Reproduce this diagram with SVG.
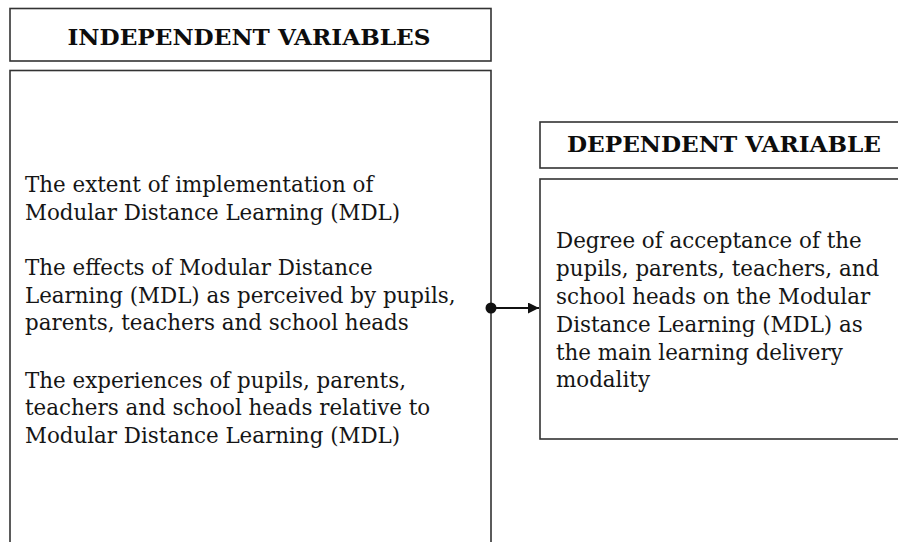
<svg xmlns="http://www.w3.org/2000/svg" width="898" height="542" viewBox="0 0 898 542">
  <style>
    .box { fill: #ffffff; stroke: #333333; stroke-width: 1.6; }
    .head { font-family: "DejaVu Serif", "Liberation Serif", serif; font-weight: bold; font-size: 22px; fill: #0d0d0d; text-anchor: middle; }
    .body { font-family: "DejaVu Serif", "Liberation Serif", serif; font-size: 21.4px; fill: #151515; }
    .wire { stroke: #111; stroke-width: 2; fill: none; }
  </style>
  <defs>
    <marker id="arrow" viewBox="0 0 10 10" refX="10" refY="5" markerWidth="12" markerHeight="11" orient="auto" markerUnits="userSpaceOnUse">
      <path d="M0,0 L10,5 L0,10 Z" fill="#111"/>
    </marker>
  </defs>
  <rect width="898" height="542" fill="#ffffff"/>

  <g id="independent-header">
    <rect class="box" x="10" y="8.5" width="481" height="52.5"/>
    <text class="head" x="249" y="45" textLength="363" lengthAdjust="spacingAndGlyphs">INDEPENDENT VARIABLES</text>
  </g>

  <g id="independent-body">
    <rect class="box" x="10" y="70.5" width="481" height="490"/>
    <text class="body">
      <tspan x="25" y="192">The extent of implementation of</tspan>
      <tspan x="25" y="220">Modular Distance Learning (MDL)</tspan>
      <tspan x="25" y="275">The effects of Modular Distance</tspan>
      <tspan x="25" y="303">Learning (MDL) as perceived by pupils,</tspan>
      <tspan x="25" y="330">parents, teachers and school heads</tspan>
      <tspan x="25" y="388">The experiences of pupils, parents,</tspan>
      <tspan x="25" y="415">teachers and school heads relative to</tspan>
      <tspan x="25" y="443">Modular Distance Learning (MDL)</tspan>
    </text>
  </g>

  <g id="dependent-header">
    <rect class="box" x="540" y="122" width="380" height="46"/>
    <text class="head" x="724" y="152" textLength="314" lengthAdjust="spacingAndGlyphs">DEPENDENT VARIABLE</text>
  </g>

  <g id="dependent-body">
    <rect class="box" x="540" y="179" width="380" height="260"/>
    <text class="body">
      <tspan x="556" y="248">Degree of acceptance of the</tspan>
      <tspan x="556" y="276">pupils, parents, teachers, and</tspan>
      <tspan x="556" y="304">school heads on the Modular</tspan>
      <tspan x="556" y="332">Distance Learning (MDL) as</tspan>
      <tspan x="556" y="360">the main learning delivery</tspan>
      <tspan x="556" y="387">modality</tspan>
    </text>
  </g>

  <g id="connectors">
    <circle cx="491" cy="308" r="5.5" fill="#111"/>
    <line class="wire" x1="491" y1="308" x2="539" y2="308" marker-end="url(#arrow)"/>
  </g>
</svg>
